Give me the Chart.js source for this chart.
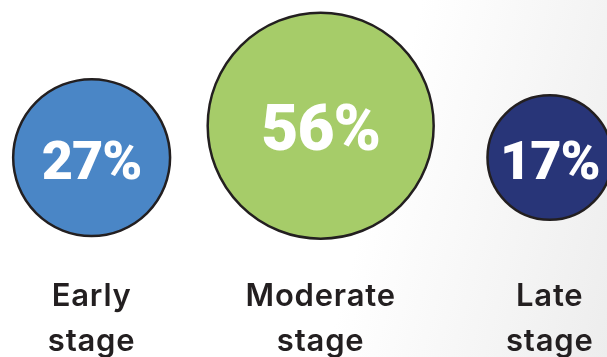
<!DOCTYPE html>
<html>
<head>
  <title>Share by stage</title>
  <script src="https://cdn.jsdelivr.net/npm/chart.js"></script>
  <style>
    html, body { margin: 0; padding: 0; }
    body {
      width: 607px;
      height: 357px;
      overflow: hidden;
      background: linear-gradient(105deg, #ffffff 60%, #ededed 100%);
    }
    #chartBox { position: relative; width: 607px; height: 357px; }
  </style>
</head>
<body>
  <div id="chartBox"><canvas id="stageChart"></canvas></div>
  <script>
    // data
    const stages = [["Early", "stage"], ["Moderate", "stage"], ["Late", "stage"]];
    const shares = [27, 56, 17];

    // layout / style (not data)
    const rowOffset = [-0.37, 0.11, -0.37];
    const colours = ["#4a86c6", "#a6cc69", "#283578"];
    const radiusPerRootPct = 15.1;

    // a little letter spacing for the axis labels
    const spacing = {
      id: "spacing",
      beforeDraw(chart) { chart.ctx.letterSpacing = "0.8px"; }
    };

    // percent labels inside the bubbles
    const percentLabels = {
      id: "percentLabels",
      afterDatasetsDraw(chart) {
        const ctx = chart.ctx;
        const meta = chart.getDatasetMeta(0);
        ctx.save();
        ctx.letterSpacing = "-1px";
        ctx.fillStyle = "#ffffff";
        ctx.textAlign = "center";
        ctx.textBaseline = "alphabetic";
        meta.data.forEach((pt, i) => {
          const size = shares[i] > 50 ? 64 : 54;
          ctx.font = `900 ${size}px Roboto`;
          ctx.fillText(shares[i] + "%", pt.x, pt.y + size * 0.355 + 2);
        });
        ctx.restore();
      }
    };

    new Chart(document.getElementById("stageChart"), {
      type: "bubble",
      data: {
        datasets: [{
          data: shares.map((v, i) => ({ x: i, y: rowOffset[i], r: radiusPerRootPct * Math.sqrt(v) })),
          backgroundColor: colours,
          borderColor: "#231f20",
          borderWidth: 2.5,
          hoverRadius: 0,
          hoverBorderWidth: 2.5,
          clip: false
        }]
      },
      options: {
        responsive: true,
        maintainAspectRatio: false,
        animation: false,
        events: [],
        layout: { padding: 0, autoPadding: false },
        plugins: {
          legend: { display: false },
          tooltip: { enabled: false }
        },
        scales: {
          x: {
            type: "linear",
            min: -0.4,
            max: 2.25,
            grid: { display: false },
            border: { display: false },
            afterFit: (scale) => { scale.height = 91; scale.paddingLeft = 0; scale.paddingRight = 0; },
            ticks: {
              stepSize: 1,
              includeBounds: false,
              autoSkip: false,
              maxRotation: 0,
              padding: 0,
              color: "#231f20",
              font: { family: "Inter", size: 31, weight: "600", lineHeight: 1.45 },
              callback: (value) => stages[value] || ""
            }
          },
          y: {
            display: false,
            min: -2,
            max: 2
          }
        }
      },
      plugins: [spacing, percentLabels]
    });
  </script>
</body>
</html>
